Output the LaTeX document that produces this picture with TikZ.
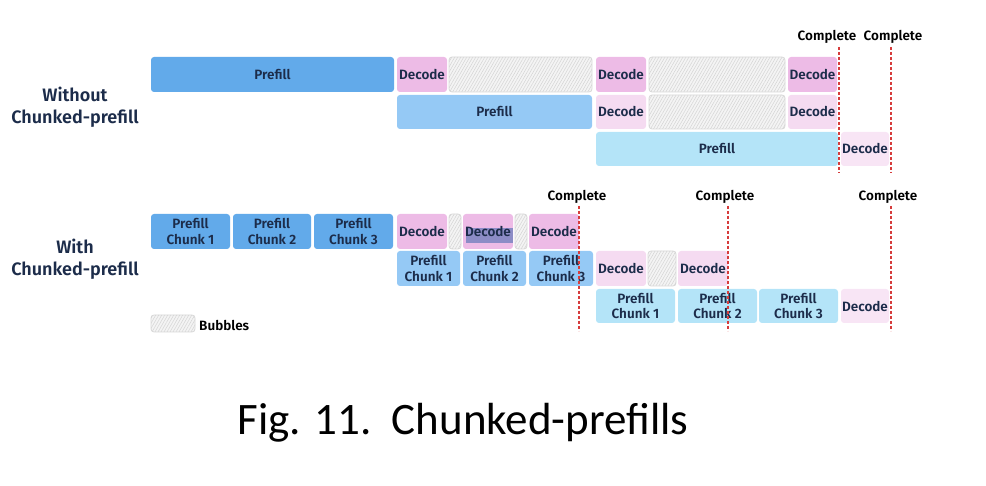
\documentclass[tikz,border=0pt]{standalone}
\usepackage{fontspec}
\setmainfont{Fira Sans}[BoldFont={Fira Sans SemiBold}]
\newfontfamily\capfont{Carlito}
\usetikzlibrary{patterns.meta}
\definecolor{txt}{HTML}{1C2C4A}
\definecolor{pA}{HTML}{62AAEA}
\definecolor{pB}{HTML}{95C9F5}
\definecolor{pC}{HTML}{B4E4F8}
\definecolor{dA}{HTML}{EDBBE6}
\definecolor{dB}{HTML}{F5DBF1}
\definecolor{dC}{HTML}{F8E5F5}
\definecolor{bubbg}{HTML}{F4F4F4}
\definecolor{hatch}{HTML}{D4D4D4}
\definecolor{bubline}{HTML}{D8D8D8}
\definecolor{redl}{HTML}{D63C3C}
\definecolor{hl}{HTML}{8C8CC6}
\tikzset{
  box/.style={rounded corners=3pt, inner sep=0pt, outer sep=0pt, align=center,
    text=txt, font=\bfseries\fontsize{13.5}{15.5}\selectfont},
  bub/.style={box, fill=bubbg, draw=bubline, line width=0.8pt,
    postaction={pattern={Lines[angle=60,distance=2.6pt,line width=0.5pt]}, pattern color=hatch}},
  redline/.style={draw=redl, dashed, dash pattern=on 3pt off 2pt, line width=1.1pt},
  comp/.style={font=\bfseries\fontsize{13.5}{14}\selectfont, text=black, inner sep=0pt},
  side/.style={font=\bfseries\fontsize{18}{22}\selectfont, text=txt, align=center, inner sep=0pt},
}
\newcommand\blk[7]{\node[#6, minimum width={#4-#2}, minimum height={#5-#3}] (#1) at ({(#2+#4)/2},{(#3+#5)/2}) {#7};}
\begin{document}
\begin{tikzpicture}[x=1pt,y=-1pt]
\useasboundingbox (0,0) rectangle (986,486);
% ---- Without chunked prefill
\node[side] (lw1) at (75,107) {Without\\Chunked-prefill};
\blk{a1}{151}{57}{394}{92}{box,fill=pA}{Prefill}
\blk{a2}{397}{57}{447}{92}{box,fill=dA}{Decode}
\blk{a3}{449}{57}{592}{92}{bub}{}
\blk{a4}{596}{57}{646}{92}{box,fill=dA}{Decode}
\blk{a5}{649}{57}{785}{92}{bub}{}
\blk{a6}{788}{57}{837}{92}{box,fill=dA}{Decode}
\blk{b1}{397}{95}{592}{129}{box,fill=pB}{Prefill}
\blk{b2}{596}{95}{646}{129}{box,fill=dB}{Decode}
\blk{b3}{649}{95}{785}{129}{bub}{}
\blk{b4}{788}{95}{837}{129}{box,fill=dB}{Decode}
\blk{c1}{596}{132}{838}{166}{box,fill=pC}{Prefill}
\blk{c2}{841}{132}{889}{166}{box,fill=dC}{Decode}
\coordinate (r1t) at (839,47); \coordinate (r1b) at (839,173);
\coordinate (r2t) at (891,47); \coordinate (r2b) at (891,173);
\draw[redline] (r1t) -- (r1b);
\draw[redline] (r2t) -- (r2b);
\node[comp] (k1) at (827,37) {Complete};
\node[comp] (k2) at (893,37) {Complete};
% ---- With chunked prefill
\node[side] (lw2) at (75,259) {With\\Chunked-prefill};
\blk{e1}{151}{214}{230}{249}{box,fill=pA}{Prefill\\Chunk 1}
\blk{e2}{233}{214}{311}{249}{box,fill=pA}{Prefill\\Chunk 2}
\blk{e3}{314}{214}{393}{249}{box,fill=pA}{Prefill\\Chunk 3}
\blk{e4}{397}{214}{447}{249}{box,fill=dA}{Decode}
\blk{e5}{449}{214}{461}{249}{bub}{}
\blk{e6}{463}{214}{513}{249}{box,fill=dA}{}
\fill[hl] (466,228) rectangle (513,243);
\node[box] (e6t) at (e6) {Decode};
\blk{e7}{515}{214}{527}{249}{bub}{}
\blk{e8}{529}{214}{579}{249}{box,fill=dA}{Decode}
\blk{f1}{397}{251}{460}{286}{box,fill=pB}{Prefill\\Chunk 1}
\blk{f2}{463}{251}{526}{286}{box,fill=pB}{Prefill\\Chunk 2}
\blk{f3}{529}{251}{593}{286}{box,fill=pB}{Prefill\\Chunk 3}
\blk{f4}{596}{251}{646}{286}{box,fill=dB}{Decode}
\blk{f5}{648}{251}{676}{286}{bub}{}
\blk{f6}{678}{251}{728}{286}{box,fill=dB}{Decode}
\blk{g1}{596}{289}{675}{323}{box,fill=pC}{Prefill\\Chunk 1}
\blk{g2}{678}{289}{757}{323}{box,fill=pC}{Prefill\\Chunk 2}
\blk{g3}{759}{289}{838}{323}{box,fill=pC}{Prefill\\Chunk 3}
\blk{g4}{841}{289}{889}{323}{box,fill=dC}{Decode}
\coordinate (s1t) at (579,206); \coordinate (s1b) at (579,331);
\coordinate (s2t) at (728,206); \coordinate (s2b) at (728,331);
\coordinate (s3t) at (891,206); \coordinate (s3b) at (891,331);
\draw[redline] (s1t) -- (s1b);
\draw[redline] (s2t) -- (s2b);
\draw[redline] (s3t) -- (s3b);
\node[comp] (m1) at (577,197) {Complete};
\node[comp] (m2) at (725,197) {Complete};
\node[comp] (m3) at (888,197) {Complete};
% legend
\blk{lg}{151}{315}{195}{332}{bub}{}
\node[comp, anchor=west] (lgt) at (199,325) {Bubbles};
% caption
\node[inner sep=0pt, font=\capfont\fontsize{45}{48}\selectfont, text=black] (cap) at (463,423) {Fig. 11.\ \ Chunked-prefills};
\end{tikzpicture}
\end{document}
